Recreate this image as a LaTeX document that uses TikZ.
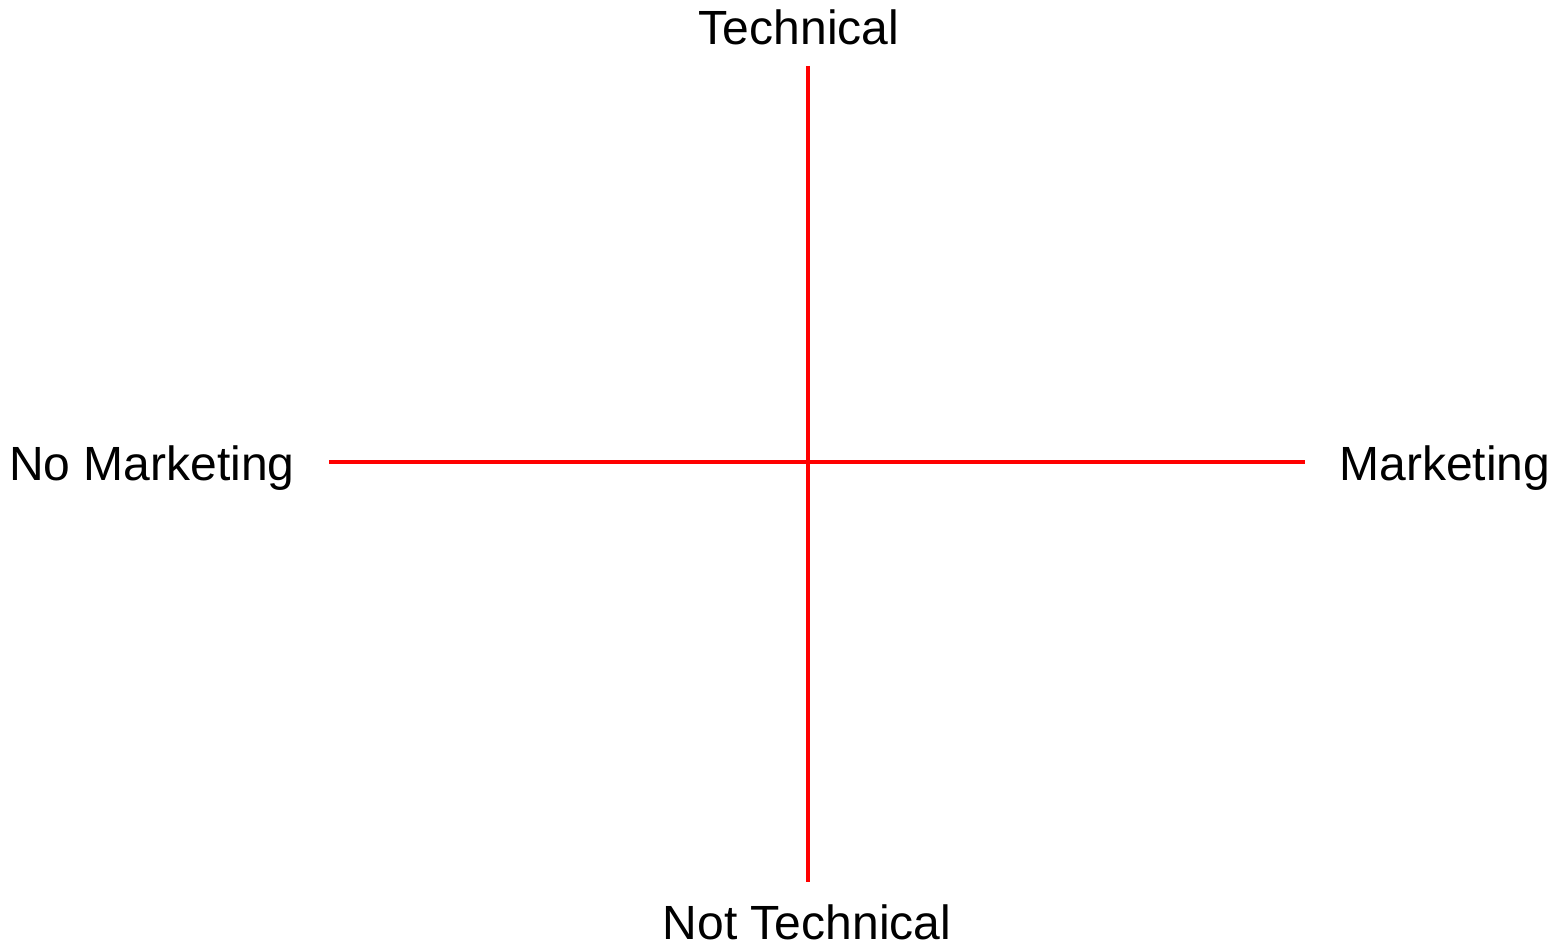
\documentclass[tikz,border=0pt]{standalone}
\usepackage{fontspec}
\setmainfont{Liberation Sans}
\begin{document}
\begin{tikzpicture}[x=0.5pt,y=-0.5pt,
  axis/.style={draw=red,line width=2.4pt},
  lbl/.style={inner sep=0pt,anchor=base,font=\fontsize{24}{28}\selectfont}]
\useasboundingbox (0,0) rectangle (1560,946);
\coordinate (top) at (808,66);
\coordinate (bot) at (808,882);
\coordinate (lft) at (329,462);
\coordinate (rgt) at (1305,462);
\draw[axis] (top) -- (bot);
\draw[axis] (lft) -- (rgt);
\node[lbl] (tech) at (799,45) {Technical};
\node[lbl] (notech) at (807,939) {Not Technical};
\node[lbl] (nomark) at (152,481) {No Marketing};
\node[lbl] (mark) at (1445,481) {Marketing};
\end{tikzpicture}
\end{document}
